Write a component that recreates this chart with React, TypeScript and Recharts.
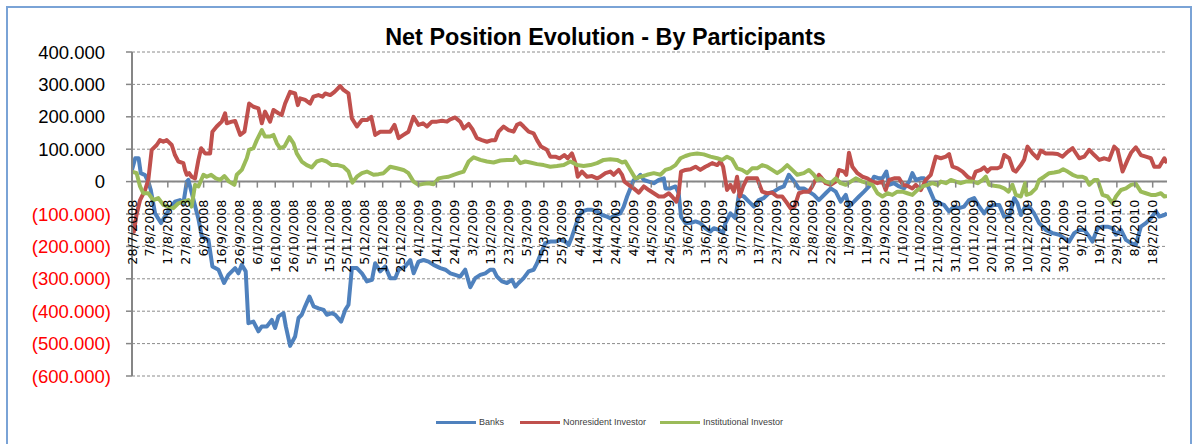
import React from 'react';
import { LineChart, Line, XAxis, YAxis, CartesianGrid, ReferenceLine, Legend } from 'recharts';

// ---- data (values in thousands; day offsets from 28/7/2008) ----
const banks: [number, number][] = [
  [0, 36], [1.8, 72], [3.7, 72], [4.9, 26], [7.3, 20], [9.4, -5], [10.5, -26], [12.9, -98], [16.2, -128], [18.4, -108],
  [21.2, -82], [24, -62], [26.8, -57], [28.7, -67], [30.6, 0], [31.5, 5], [33.4, -36], [37, -113], [39, -170], [42.7, -180],
  [44.9, -262], [48.3, -272], [51.4, -313], [53.8, -288], [57.6, -267], [59.4, -283], [61.3, -257], [63.5, -277], [65, -437], [67.8, -432],
  [70.6, -462], [72.5, -447], [75.3, -447], [78.1, -427], [79.9, -452], [81.8, -416], [84.6, -406], [85.9, -447], [88.3, -507], [91.1, -478],
  [93, -421], [94.8, -411], [96.7, -385], [99.1, -355], [101.4, -385], [104.2, -391], [107, -396], [108.8, -411], [111.6, -406], [113.5, -411],
  [116.8, -432], [119.1, -396], [120.9, -380], [122.8, -267], [125.6, -267], [128.4, -283], [131.2, -308], [134, -303], [135.8, -252], [138.6, -277],
  [141.4, -262], [144.2, -298], [147, -298], [148.9, -272], [152.6, -262], [155.4, -242], [157.3, -283], [160, -247], [162.8, -242], [165.6, -247],
  [168.4, -257], [172.2, -267], [175, -272], [177.8, -283], [180.5, -288], [183.3, -293], [186.1, -272], [188.9, -326], [191.7, -298], [194.5, -288],
  [197.3, -283], [200.1, -272], [201.9, -272], [203.8, -293], [206.6, -308], [209.4, -313], [212.2, -303], [214.1, -324], [215.9, -313], [218.7, -298],
  [221.5, -277], [224.3, -272], [226.2, -252], [228.4, -221], [230.8, -190], [233.6, -185], [236.4, -185], [239.2, -180], [242, -185], [243.9, -195],
  [245.7, -170], [247.6, -139], [249.4, -108], [251.3, -92], [254.1, -87], [256.9, -87], [259.7, -92], [262.5, -103], [265.3, -108], [267.1, -113],
  [269.9, -103], [272.7, -98], [274.6, -77], [276.5, -46], [278.3, -21], [280.2, 5], [282.1, 10], [283.9, 21], [285.8, 5], [288.6, 0],
  [291.4, -5], [294.2, 5], [297, 10], [297.9, -21], [300.7, -21], [303.5, -15], [305.3, -36], [306.6, -108], [309.1, -128], [311.9, -128],
  [314.7, -123], [317.4, -128], [320.2, -144], [323, -154], [324.9, -144], [327.7, -149], [330.1, -159], [331.4, -128], [334.2, -98], [337, -113],
  [338.9, -41], [341.7, -46], [344.5, -62], [347.3, -77], [350, -57], [352.8, -51], [355.6, -36], [358.4, -31], [361.2, -21], [364, -15],
  [366.8, 21], [369.2, 5], [372.4, -21], [375.2, -21], [378, -31], [380.8, -41], [383.6, -57], [387.4, -36], [390.2, -21], [393, -31],
  [395.8, -62], [398.6, -41], [400.4, -77], [403.2, -62], [406, -46], [408.8, -31], [411.6, -15], [414.4, 15], [417.2, 10], [419.1, 10],
  [421.3, 31], [422.8, -10], [425.6, -5], [428.4, -15], [431.2, -21], [434, 0], [435.8, 26], [437.7, 5], [440.5, 10], [442.3, 10],
  [445.1, -21], [447.9, -57], [450.7, -67], [453.5, -72], [456.3, -92], [459.1, -77], [461.9, -82], [464.7, -77], [467.5, -57], [470.3, -51],
  [473.1, -77], [475.9, -98], [478.7, -77], [481.5, -72], [484.3, -72], [487.1, -108], [489.9, -108], [492.7, -51], [494.5, -67], [496.4, -103],
  [498.8, -77], [501, -77], [503.8, -98], [506.6, -128], [510.3, -149], [514.1, -159], [517.8, -164], [520.6, -175], [523.4, -185], [526.2, -159],
  [529, -149], [531.8, -149], [534.6, -170], [536.4, -185], [539.2, -144], [542, -139], [544.8, -139], [547.6, -144], [549.5, -164], [552.3, -149],
  [555.1, -180], [557.9, -190], [560.6, -195], [563.4, -139], [566.2, -128], [569, -113], [571.8, -92], [573.7, -108], [576.5, -103], [578, -98],
];

const nonresident: [number, number][] = [
  [0, -120], [1, -155], [2.6, -100], [4.5, -57], [7.3, -26], [9.1, 5], [11, 98], [13.8, 113], [15.6, 128], [17.5, 123],
  [19.4, 128], [22.2, 113], [24, 82], [25.9, 62], [28.7, 57], [29.6, 36], [30.6, 21], [31.9, 26], [33.3, 15], [35.2, 10],
  [37.1, 67], [38.6, 103], [40.8, 87], [43.6, 87], [44.9, 154], [47.3, 170], [50.1, 185], [52, 211], [52.9, 180], [55.7, 185],
  [57.6, 187], [60.4, 144], [62.8, 154], [65.4, 241], [67.8, 231], [70.6, 226], [72.5, 180], [74.3, 216], [77.1, 185], [79, 221],
  [81.8, 211], [83.6, 206], [85.5, 241], [88.3, 277], [91.1, 272], [92.6, 236], [93.9, 257], [96.7, 252], [99.5, 241], [101.3, 262],
  [104.1, 267], [106.4, 262], [107.9, 272], [110.7, 267], [113.1, 277], [116.3, 295], [118.1, 283], [120.9, 272], [122.8, 195], [125.6, 170],
  [128.4, 190], [131.2, 190], [133.6, 200], [135.8, 144], [138.6, 154], [141.4, 154], [144.2, 154], [146.6, 175], [148.9, 134], [151.6, 144],
  [154.4, 154], [157.2, 200], [160, 175], [162.5, 180], [164.7, 170], [167.5, 185], [170.3, 185], [173.1, 188], [175.9, 185], [177.7, 192],
  [180.5, 198], [183.3, 185], [185.2, 164], [188, 178], [190.3, 160], [192.6, 134], [195.4, 128], [198.2, 123], [201, 128], [202.9, 128],
  [204.7, 154], [207.5, 170], [210.3, 159], [213.1, 154], [215, 175], [216.8, 180], [218.7, 170], [221.5, 154], [224.3, 149], [226.2, 128],
  [228.4, 108], [231.7, 98], [233.6, 77], [236.4, 77], [238.8, 72], [241.4, 82], [243.3, 72], [245.7, 87], [247.6, 57], [248.9, 15],
  [251.3, 31], [254.1, 15], [256.9, 17], [259.7, 10], [261.6, 15], [264.4, 26], [267.1, 31], [269, 21], [271.8, 36], [273.7, 21],
  [275, 0], [277.4, -10], [280.2, -21], [283, -34], [285.8, -15], [288.6, -26], [291.4, -36], [294.2, -46], [297, -46], [299.8, -36],
  [301.6, -46], [304, -62], [305.3, -36], [306.6, 31], [309.1, 36], [311.9, 38], [314.7, 46], [317.4, 36], [320.2, 46], [322.1, 51],
  [324, 57], [326.8, 51], [328.6, 62], [330.1, 46], [332.3, -26], [334.2, -10], [336.1, -31], [337.9, 15], [339.4, -46], [341.3, -15],
  [343.5, 10], [346.3, 10], [349.1, 10], [351.9, -31], [354.7, -36], [357.5, -34], [360.3, -46], [363.1, -46], [365.9, -67], [367.7, -82],
  [370, -77], [372.4, -36], [375.2, -31], [378, -31], [379.9, -15], [381.7, 5], [383.6, 21], [384.6, 15], [387.4, -5], [390.2, -10],
  [393, 0], [394.8, 36], [397.6, 31], [398.9, 21], [400.4, 89], [402.3, 46], [405.1, 26], [407.9, 15], [410.7, 10], [413.5, 0],
  [416.3, -5], [419.1, 0], [420.9, -26], [422.8, 5], [425.6, 10], [428.4, 10], [430.6, -10], [433, -13], [435.8, -21], [437.7, -10],
  [440.5, -26], [443.3, 5], [446.1, 21], [448.9, 77], [451.7, 72], [454.5, 77], [456.3, 85], [458.2, 46], [461, 41], [463.8, 31],
  [466.6, 15], [469.4, 5], [471.2, 31], [474, 36], [475.9, 44], [477.7, 31], [479.6, 41], [483.3, 41], [485.2, 46], [487.1, 82],
  [489.9, 72], [492.1, 36], [493.6, 31], [496.4, 51], [498.2, 67], [500.1, 108], [502.9, 87], [505.7, 72], [507.5, 96], [510.3, 87],
  [514.1, 87], [516.9, 85], [519.7, 77], [522.5, 92], [525.3, 103], [529, 72], [531.8, 77], [534.6, 98], [537.4, 82], [540.2, 67],
  [543, 72], [545.7, 67], [548.5, 108], [550.4, 98], [553.2, 31], [556, 67], [557.9, 89], [560.6, 106], [563.4, 82], [566.2, 77],
  [569, 72], [570.9, 46], [573.7, 46], [576.5, 72], [578, 57],
];

const institutional: [number, number][] = [
  [0, 31], [2.6, 26], [4.5, -15], [6.3, -36], [9.1, -36], [11.9, -57], [14.7, -51], [17.5, -72], [20.3, -77], [23.1, -82],
  [25.9, -67], [28.7, -62], [31.5, -57], [33.3, -77], [35.2, -10], [37.1, -15], [39.9, 21], [41.7, 15], [44.2, 21], [46.8, 10],
  [49.2, 5], [51.6, 17], [54.2, 0], [57.2, -10], [58.5, 21], [61.3, 36], [64.1, 72], [65.4, 98], [67.8, 103], [69.7, 128],
  [72.5, 159], [74.3, 139], [77.1, 139], [79, 144], [80.9, 118], [82.7, 103], [85.1, 108], [87.9, 137], [90.2, 118], [92, 87],
  [94.8, 62], [97.6, 51], [100.4, 44], [103.2, 62], [106, 67], [108.8, 62], [111.6, 51], [114.9, 51], [118.1, 46], [120.9, 31],
  [123.1, -3], [125.6, 15], [128.4, 26], [131.2, 31], [134.9, 21], [137.7, 23], [140.5, 26], [144.2, 46], [147.9, 41], [151.6, 36],
  [154.4, 26], [157.2, 0], [160, -10], [162.8, -7], [165.6, -5], [168.4, -8], [171.2, 10], [174, 13], [176.8, 15], [179.6, 21],
  [182.4, 26], [185.2, 31], [188, 62], [190.8, 75], [194.5, 67], [198.2, 62], [201.9, 59], [205.7, 65], [209.4, 67], [213.1, 67],
  [214.1, 77], [216.8, 57], [219.6, 62], [222.4, 59], [226.2, 54], [229.9, 51], [233.6, 46], [237.3, 48], [241.1, 51], [244.8, 62],
  [246.7, 57], [248.5, 51], [252.2, 48], [256, 51], [259.7, 57], [263.4, 67], [267.1, 69], [270.9, 67], [273.7, 59], [275.5, 62],
  [278.3, 36], [281.1, 10], [283.9, 15], [287.6, 21], [291.4, 26], [295.1, 21], [297.9, 36], [300.7, 41], [303.5, 51], [306.3, 72],
  [309.1, 79], [311.9, 84], [315.6, 87], [319.3, 84], [323, 77], [326.8, 72], [329.6, 67], [332.3, 77], [335.1, 69], [337.9, 41],
  [340.7, 36], [343.5, 26], [346.3, 41], [349.1, 41], [351.9, 51], [354.7, 46], [357.5, 36], [360.3, 26], [363.1, 36], [365.9, 51],
  [368.7, 36], [371.5, 21], [375.2, 26], [378, 36], [380.8, 21], [382.7, 5], [384.6, 10], [387.4, 0], [390.2, -5], [393, 10],
  [395.8, -5], [398.6, -10], [401.4, 0], [404.2, 10], [407.9, 0], [410.7, -5], [413.5, -10], [416.3, -36], [419.1, -46], [421.9, -36],
  [424.6, -41], [427.4, -31], [430.2, -31], [433, -36], [435.8, -41], [438.6, -26], [441.4, -15], [444.2, -10], [447, -5], [449.8, -10],
  [451.7, 0], [454.5, -5], [457.3, 5], [460, 0], [462.8, -5], [465.6, 0], [469.4, 0], [472.2, -5], [475, 5], [476.8, 15],
  [478.7, -10], [481.5, -13], [484.3, -15], [487.1, -21], [489.5, -31], [491.7, -10], [493.6, -41], [496.4, -46], [498.8, -5], [499.5, -41],
  [502, -36], [504.8, -21], [506.6, 5], [509.4, 15], [512.2, 26], [515, 28], [517.8, 31], [520, 38], [522.5, 31], [525.3, 21],
  [528, 15], [530.8, 15], [532.7, 10], [534.6, -10], [537.4, 5], [539.2, 5], [542, -41], [544.8, -46], [547.6, -67], [549.5, -46],
  [552.3, -26], [555.1, -21], [557.9, -10], [560.6, -7], [563.4, -31], [566.2, -36], [569, -41], [571.8, -41], [574.6, -36], [576.5, -46],
  [578, -44],
];

const tickLabels = [
  '28/7/2008', '7/8/2008', '17/8/2008', '27/8/2008', '6/9/2008', '16/9/2008', '26/9/2008', '6/10/2008', '16/10/2008', '26/10/2008',
  '5/11/2008', '15/11/2008', '25/11/2008', '5/12/2008', '15/12/2008', '25/12/2008', '4/1/2009', '14/1/2009', '24/1/2009', '3/2/2009',
  '13/2/2009', '23/2/2009', '5/3/2009', '15/3/2009', '25/3/2009', '4/4/2009', '14/4/2009', '24/4/2009', '4/5/2009', '14/5/2009',
  '24/5/2009', '3/6/2009', '13/6/2009', '23/6/2009', '3/7/2009', '13/7/2009', '23/7/2009', '2/8/2009', '12/8/2009', '22/8/2009',
  '1/9/2009', '11/9/2009', '21/9/2009', '1/10/2009', '11/10/2009', '21/10/2009', '31/10/2009', '10/11/2009', '20/11/2009', '30/11/2009',
  '10/12/2009', '20/12/2009', '30/12/2009', '9/1/2010', '19/1/2010', '29/1/2010', '8/2/2010', '18/2/2010',
];
const TICK_STEP_DAYS = 10;
const LAST_DAY = 578;
const yTicks = [-600, -500, -400, -300, -200, -100, 0, 100, 200, 300, 400];

const seriesNames = ['Banks', 'Nonresident Investor', 'Institutional Investor'];
const seriesColors = ['#4F81BD', '#C0504D', '#9BBB59'];

// ---- layout ----
const CHART_W = 1198;
const CHART_H = 444;
const MARGIN = { top: 52, right: 31, bottom: 47, left: 12 };
const Y_AXIS_W = 120;
const X_AXIS_H = 1;
const LEGEND_H = 20;
const Y_MIN = yTicks[0];
const Y_MAX = yTicks[yTicks.length - 1];
const PLOT_H = CHART_H - MARGIN.top - MARGIN.bottom - X_AXIS_H - LEGEND_H;
const ZERO_Y = MARGIN.top + (PLOT_H * Y_MAX) / (Y_MAX - Y_MIN);

const toRows = (pts: [number, number][]) => pts.map(([day, value]) => ({ day, value }));
const xTicks = tickLabels.map((_, i) => i * TICK_STEP_DAYS);

const groupThousands = (n: number) => String(n).replace(/\B(?=(\d{3})+(?!\d))/g, '.');
const formatY = (v: number) => {
  if (v === 0) return '0';
  const s = groupThousands(Math.abs(v) * 1000);
  return v < 0 ? `(${s})` : s;
};

const YTick = (props: any) => {
  const { x, y, payload } = props;
  const v = payload.value as number;
  const neg = v < 0;
  return (
    <text
      x={neg ? x : x - 6}
      y={y}
      dy="0.36em"
      textAnchor="end"
      fill={neg ? '#FF0000' : '#000000'}
      fontSize={18.5}
      fontFamily="'Liberation Sans', Arial, sans-serif"
    >
      {formatY(v)}
    </text>
  );
};

const XTick = (props: any) => {
  const { x, payload } = props;
  const label = tickLabels[Math.round(payload.value / TICK_STEP_DAYS)];
  const ly = ZERO_Y + 18;
  return (
    <g>
      <line x1={x} x2={x} y1={ZERO_Y} y2={ZERO_Y + 6} stroke="#868686" strokeWidth={1.5} />
      <text
        x={x}
        y={ly}
        transform={`rotate(-90 ${x} ${ly})`}
        textAnchor="end"
        dy="0.36em"
        fontSize={12.7}
        fontFamily="'DejaVu Sans', sans-serif"
        fill="#000000"
      >
        {label}
      </text>
    </g>
  );
};

const legendOffsets = [0, 84, 224];
const LegendContent = () => (
  <div style={{ position: 'relative', height: LEGEND_H }}>
    {seriesNames.map((name, i) => (
      <div
        key={name}
        style={{
          position: 'absolute',
          left: legendOffsets[i],
          top: 0,
          height: LEGEND_H,
          display: 'flex',
          alignItems: 'center',
          whiteSpace: 'nowrap',
        }}
      >
        <span style={{ display: 'inline-block', width: 40, height: 3, background: seriesColors[i] }} />
        <span
          style={{
            marginLeft: 3,
            fontSize: 9,
            fontFamily: "'Liberation Sans', Arial, sans-serif",
            color: '#404040',
          }}
        >
          {name}
        </span>
      </div>
    ))}
  </div>
);

const seriesData = [banks, nonresident, institutional];

export default function App() {
  return (
    <div style={{ position: 'absolute', left: 0, top: 0, width: CHART_W, height: CHART_H, background: '#fff', overflow: 'hidden' }}>
      <div
        style={{
          position: 'absolute',
          left: 6,
          top: 6,
          width: 1182,
          height: 470,
          border: '2px solid #7AA3D6',
        }}
      />
      <div
        style={{
          position: 'absolute',
          top: 25.5,
          left: 0,
          width: 1211,
          textAlign: 'center',
          fontFamily: "'Liberation Sans', Arial, sans-serif",
          fontWeight: 'bold',
          fontSize: 23.4,
          lineHeight: '23px',
          color: '#000',
        }}
      >
        Net Position Evolution - By Participants
      </div>
      <div style={{ position: 'absolute', left: 0, top: 0 }}>
        <LineChart width={CHART_W} height={CHART_H} margin={MARGIN}>
          <CartesianGrid horizontal vertical={false} stroke="#8C8C8C" strokeDasharray="3 2" />
          <XAxis
            type="number"
            dataKey="day"
            domain={[0, LAST_DAY]}
            ticks={xTicks}
            interval={0}
            height={X_AXIS_H}
            axisLine={false}
            tickLine={false}
            tick={<XTick />}
            allowDataOverflow
          />
          <YAxis
            type="number"
            domain={[Y_MIN, Y_MAX]}
            ticks={yTicks}
            interval={0}
            width={Y_AXIS_W}
            axisLine={{ stroke: '#868686', strokeWidth: 2 }}
            tickLine={{ stroke: '#868686', strokeWidth: 1.5 }}
            tickSize={6}
            tickMargin={15}
            tick={<YTick />}
          />
          <ReferenceLine y={0} stroke="#868686" strokeWidth={2} />
          {seriesData.map((pts, i) => (
            <Line
              key={seriesNames[i]}
              data={toRows(pts)}
              dataKey="value"
              name={seriesNames[i]}
              type="linear"
              stroke={seriesColors[i]}
              strokeWidth={4}
              strokeLinejoin="round"
              dot={false}
              activeDot={false}
              isAnimationActive={false}
            />
          ))}
          <Legend
            verticalAlign="bottom"
            align="left"
            height={LEGEND_H}
            wrapperStyle={{ left: 436, bottom: 12, width: 400, height: LEGEND_H }}
            content={() => <LegendContent />}
          />
        </LineChart>
      </div>
    </div>
  );
}
